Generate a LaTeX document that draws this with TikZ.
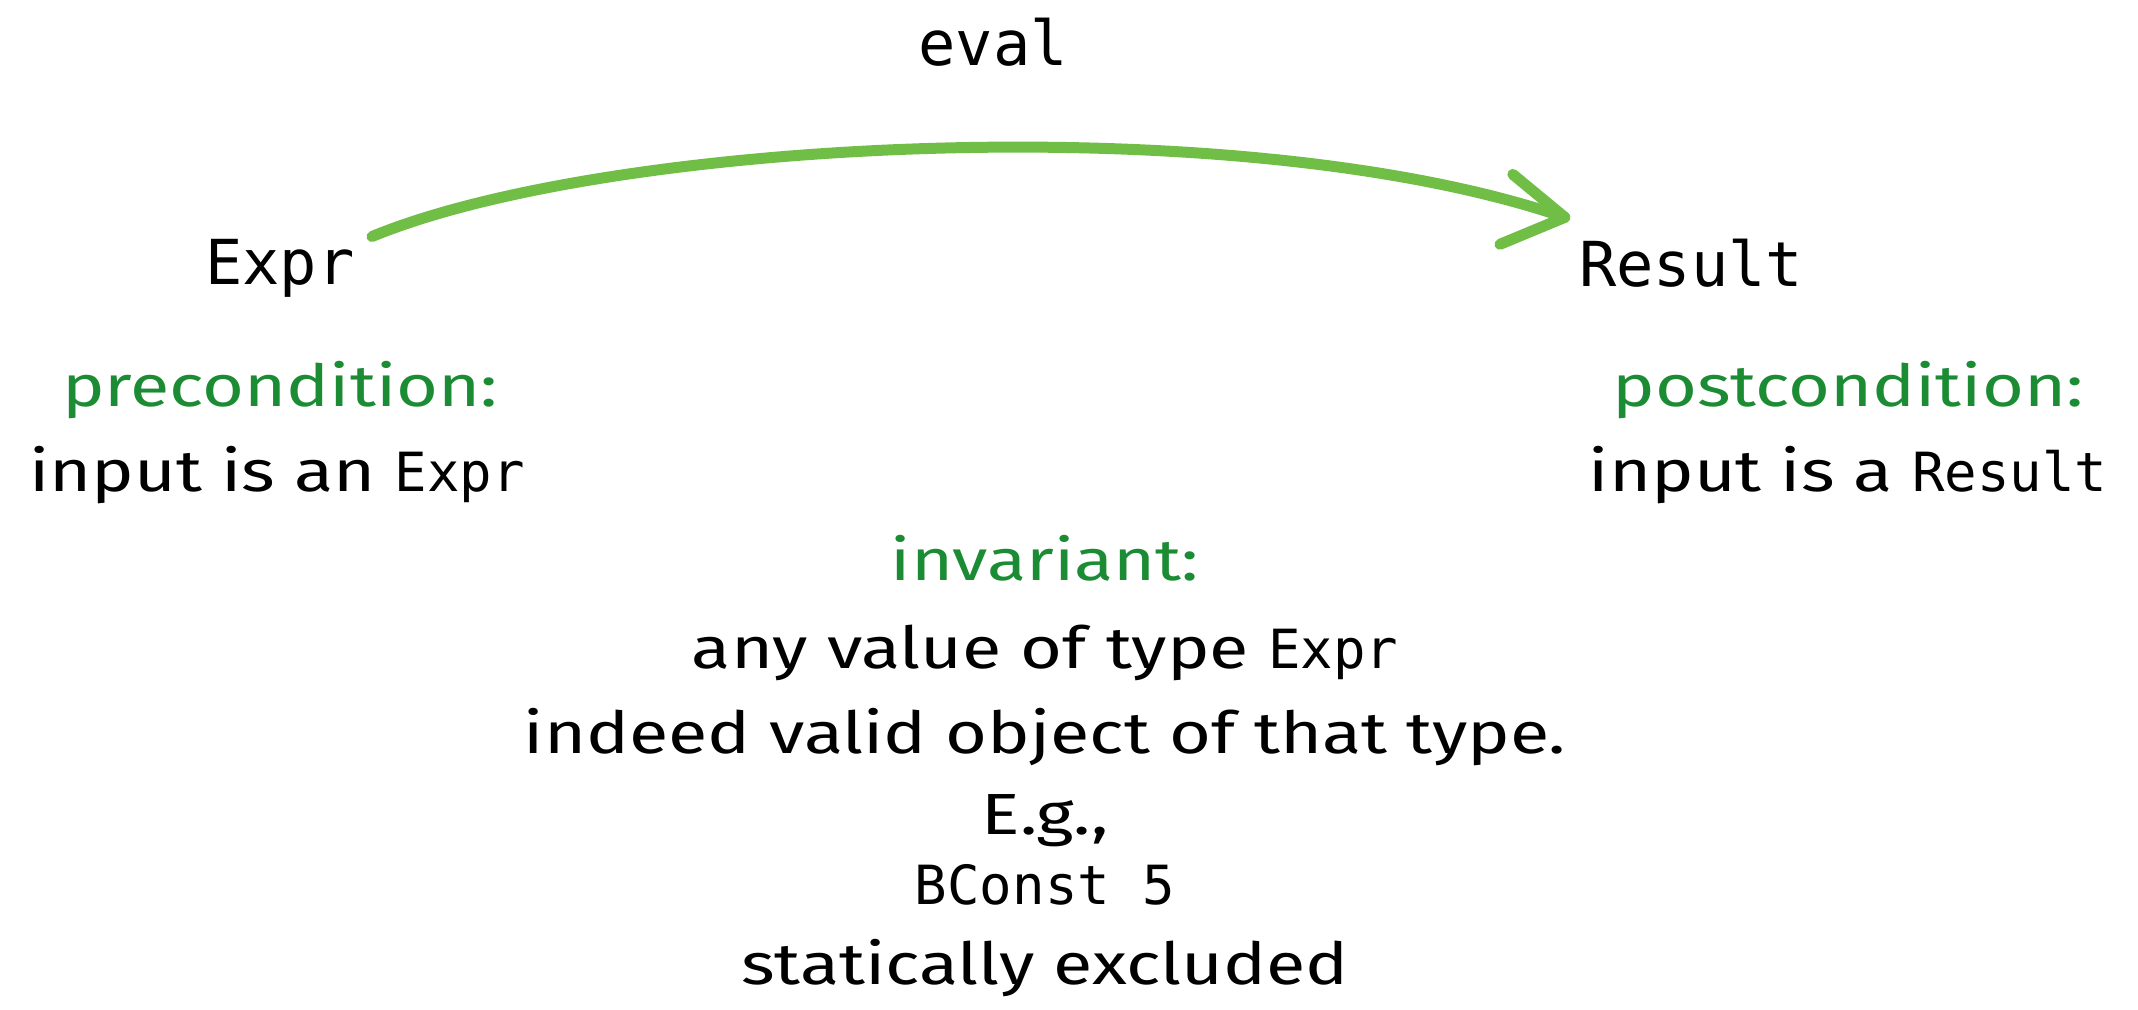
\documentclass[tikz,border=0pt]{standalone}
\usepackage{fontspec}
\setmainfont[FakeStretch=1.24]{Fira Sans}
\setmonofont{DejaVu Sans Mono}
\definecolor{arrowgreen}{RGB}{112,190,70}
\definecolor{labelgreen}{RGB}{28,140,52}
\tikzset{
  code/.style={anchor=base, inner sep=0pt, font=\ttfamily\fontsize{62}{70}\selectfont},
  note/.style={anchor=base, inner sep=0pt, font=\fontsize{58}{66}\selectfont},
  head/.style={note, text=labelgreen},
  flow/.style={draw=arrowgreen, line width=11pt, line cap=round, line join=round}
}
\newcommand{\tcode}[1]{{\ttfamily\fontsize{54}{60}\selectfont #1}}
\begin{document}
\begin{tikzpicture}[x=1pt, y=-1pt]
\useasboundingbox (0,0) rectangle (2138,1009);

% types and the function between them
\node[code] (eval) at (993,65) {eval};
\node[code] (expr) at (280,284) {Expr};
\node[code] (result) at (1691,286) {Result};

% contracts on either side
\node[head] (pre) at (280,406) {precondition:};
\node[note] (prein) at (277,491) {input is an \tcode{Expr}};
\node[head] (post) at (1848,406) {postcondition:};
\node[note] (postin) at (1848,491) {input is a \tcode{Result}};

% invariant block
\node[head] (inv) at (1045,580) {invariant:};
\node[note] (inv1) at (1045,668) {any value of type \tcode{Expr}};
\node[note] (inv2) at (1045,753) {indeed valid object of that type.};
\node[note] (inv3) at (1045,834) {E.g.,};
\node[note] (inv4) at (1045,904) {\tcode{BConst 5}};
\node[note] (inv5) at (1045,984) {statically excluded};

% eval arrow from Expr to Result
\coordinate (from) at ([shift={(17,-2)}]expr.north east);
\coordinate (to) at ([shift={(-14,-21)}]result.north west);
\draw[flow] (from) .. controls (610,138) and (1240,106) .. (to);
\draw[flow] (to) -- ++(-52,-43);
\draw[flow] (to) -- ++(-65,27);
\end{tikzpicture}
\end{document}
